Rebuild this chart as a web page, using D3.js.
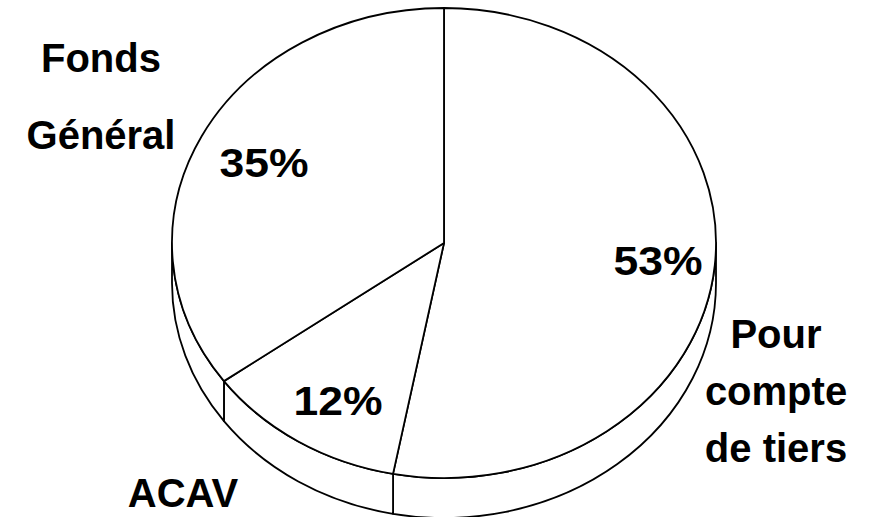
<!DOCTYPE html>
<html>
<head>
<meta charset="utf-8">
<script src="https://cdn.jsdelivr.net/npm/d3@7"></script>
<style>
  html, body { margin: 0; padding: 0; background: #fff; }
  svg { display: block; }
  text { font-family: "Liberation Sans", Arial, sans-serif; font-weight: bold; fill: #000; }
</style>
</head>
<body>
<svg id="chart" width="870" height="517"></svg>
<script>
// Data
const categories = ["Pour compte de tiers", "ACAV", "Fonds Général"];
const values = [53, 12, 35];
const pctLabels = ["53%", "12%", "35%"];
// Category label lines
const catLines = [["Pour", "compte", "de tiers"], ["ACAV"], ["Fonds", "Général"]];

const W = 870, H = 517;
const cx = 444, cy = 243, rx = 272, ry = 235, depth = 40;

const svg = d3.select("#chart");
const g = svg.append("g");

const pie = d3.pie().sort(null).value(d => d).startAngle(0).endAngle(2 * Math.PI);
const arcs = pie(values);

const P = (a, dy = 0) => [cx + rx * Math.sin(a), cy - ry * Math.cos(a) + dy];

// Side walls (front half only: angles between PI/2 and 3PI/2)
arcs.forEach(d => {
  const a0 = Math.max(d.startAngle, Math.PI / 2);
  const a1 = Math.min(d.endAngle, 3 * Math.PI / 2);
  if (a1 <= a0) return;
  const large = (a1 - a0) > Math.PI ? 1 : 0;
  const p0 = P(a0), p1 = P(a1), q1 = P(a1, depth), q0 = P(a0, depth);
  const path = `M${p0}A${rx},${ry} 0 ${large} 1 ${p1}L${q1}A${rx},${ry} 0 ${large} 0 ${q0}Z`;
  g.append("path").attr("d", path)
    .attr("fill", "#fff").attr("stroke", "#000").attr("stroke-width", 1.8)
    .attr("stroke-linejoin", "round");
});

// Top faces
arcs.forEach(d => {
  const a0 = d.startAngle, a1 = d.endAngle;
  const large = (a1 - a0) > Math.PI ? 1 : 0;
  const p0 = P(a0), p1 = P(a1);
  const path = `M${cx},${cy}L${p0}A${rx},${ry} 0 ${large} 1 ${p1}Z`;
  g.append("path").attr("d", path)
    .attr("fill", "#fff").attr("stroke", "#000").attr("stroke-width", 1.8)
    .attr("stroke-linejoin", "round");
});

// Percent labels
const pctPos = [[658, 275], [338, 415], [264, 177]];
arcs.forEach((d, i) => {
  g.append("text").attr("x", pctPos[i][0]).attr("y", pctPos[i][1])
    .attr("text-anchor", "middle").attr("font-size", 41)
    .attr("textLength", 89).attr("lengthAdjust", "spacingAndGlyphs")
    .text(pctLabels[i]);
});

// Category labels
const catPos = [
  { x: 776, ys: [348, 405, 462] },
  { x: 183, ys: [507] },
  { x: 101, ys: [72, 149] }
];
catLines.forEach((lines, i) => {
  lines.forEach((t, j) => {
    g.append("text").attr("x", catPos[i].x).attr("y", catPos[i].ys[j])
      .attr("text-anchor", "middle").attr("font-size", 40)
      .text(t);
  });
});
</script>
</body>
</html>
